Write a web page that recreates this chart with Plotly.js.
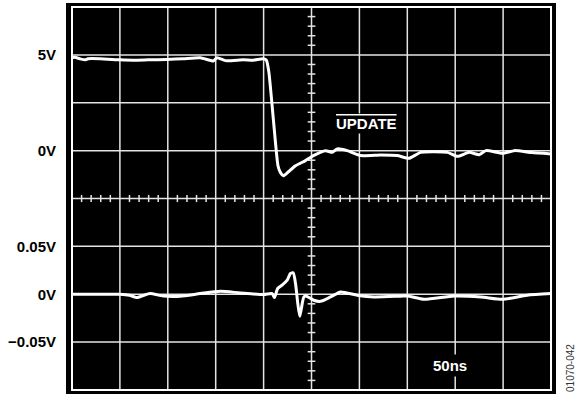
<!DOCTYPE html>
<html>
<head>
<meta charset="utf-8">
<script src="https://cdn.plot.ly/plotly-3.0.1.min.js"></script>
<style>html,body{margin:0;padding:0;background:#fff;}#chart{width:576px;height:398px;}</style>
</head>
<body>
<div id="chart"></div>
<script>
// Time axis in ns (50 ns/div, 10 divisions)
const updateTime = [0, 3.1, 8, 13.6, 16.7, 29.3, 50.2, 63.8, 80, 99, 116, 133.9, 147.5, 151.4, 160, 178.9, 189.3, 199.8, 202.9, 205.5, 210.3, 215, 217.6, 220.7, 224.9, 233.3, 243.7, 252, 264.6, 271.6, 276.9, 287.3, 301.3, 322.2, 339.6, 351.8, 364, 391.9, 402.4, 414.5, 425, 432, 449.5, 461.6, 480, 500];
// UPDATE signal in volts (2.5 V/div)
const updateVolts = [4.85, 4.87, 4.80, 4.74, 4.80, 4.80, 4.74, 4.72, 4.74, 4.76, 4.80, 4.85, 4.68, 4.85, 4.70, 4.74, 4.72, 4.80, 4.72, 4.1, 1.57, -0.79, -1.15, -1.31, -1.15, -0.79, -0.52, -0.26, 0.0, -0.09, 0.09, 0.0, -0.26, -0.23, -0.26, -0.40, -0.09, -0.09, -0.30, -0.09, -0.21, 0.0, -0.14, 0.0, -0.10, -0.17];
// Output glitch in volts (0.05 V/div)
const outTime = [0, 29.3, 50.2, 60, 67.7, 75, 81.6, 95.2, 113, 133.9, 154.8, 175.7, 200.1, 208.9, 211.3, 214.7, 219.3, 224.6, 228, 230.9, 233.3, 235.7, 237.8, 240.3, 242, 244.8, 252.4, 259.4, 269.9, 280.3, 297.8, 315.2, 343.1, 350.1, 367.5, 398.8, 426.8, 449.5, 475, 500];
const outVolts = [0.0, 0.0, 0.0, -0.001, -0.0035, -0.001, 0.0007, -0.0018, -0.002, 0.0007, 0.0031, 0.0014, -0.0003, 0.0007, -0.0035, 0.006, 0.0095, 0.0147, 0.0217, 0.0224, 0.0112, -0.0098, -0.0231, -0.0098, -0.0028, -0.002, -0.0063, -0.0074, -0.0028, 0.0024, -0.001, -0.0028, -0.002, -0.0018, -0.0053, -0.0018, -0.0028, -0.0053, -0.001, 0.0007];
// Tick labels
const upperTickVals = [5, 0];
const upperTickText = ['5V', '0V'];
const lowerTickVals = [0.05, 0, -0.05];
const lowerTickText = ['0.05V', '0V', '\u22120.05V'];

const xRange = [-6.26, 505.2];
const divRange = [-0.0836, 8.0836];
const upperRange = divRange.map(d => (d - 5) * 2.5);
const lowerRange = divRange.map(d => (d - 2) * 0.05);

const lblFont = {family: 'Liberation Sans, Arial, sans-serif', size: 15, color: '#000', weight: 'bold'};

const traces = [
  {x: updateTime, y: updateVolts, yaxis: 'y2', mode: 'lines', line: {color: '#fff', width: 3, shape: 'spline', smoothing: 0.5}, hoverinfo: 'skip'},
  {x: outTime, y: outVolts, yaxis: 'y3', mode: 'lines', line: {color: '#fff', width: 3, shape: 'spline', smoothing: 0.6}, hoverinfo: 'skip'}
];

const gridCol = '#e4e4e4';
const shapes = [];
// grid lines, bounded by the graticule border
for (let t = 50; t < 500; t += 50) {
  shapes.push({type: 'line', xref: 'x', yref: 'y', x0: t, x1: t, y0: 0, y1: 8, line: {color: gridCol, width: 1.5}, layer: 'between'});
}
for (let d = 1; d < 8; d += 1) {
  shapes.push({type: 'line', xref: 'x', yref: 'y', x0: 0, x1: 500, y0: d, y1: d, line: {color: gridCol, width: 1.5}, layer: 'between'});
}
// border
shapes.push({type: 'rect', xref: 'x', yref: 'y', x0: 0, x1: 500, y0: 0, y1: 8, line: {color: '#fff', width: 2}, layer: 'between'});
// minor ticks on center lines
for (let t = 10; t < 500; t += 10) {
  if (t % 50 === 0) continue;
  shapes.push({type: 'line', xref: 'x', yref: 'y', x0: t, x1: t, y0: 4 - 0.075, y1: 4 + 0.075, line: {color: gridCol, width: 1.5}, layer: 'between'});
}
for (let i = 1; i < 40; i++) {
  if (i % 5 === 0) continue;
  const d = i * 0.2;
  shapes.push({type: 'line', xref: 'x', yref: 'y', x0: 250 - 4, x1: 250 + 4, y0: d, y1: d, line: {color: gridCol, width: 1.5}, layer: 'between'});
}

const layout = {
  width: 576, height: 398,
  margin: {l: 66, r: 20, t: 3, b: 4, pad: 0},
  paper_bgcolor: '#fff', plot_bgcolor: '#000',
  showlegend: false,
  xaxis: {range: xRange, showgrid: false, zeroline: false, showticklabels: false, ticks: '', showline: false, fixedrange: true},
  yaxis: {range: divRange, showgrid: false, zeroline: false, showticklabels: false, ticks: '', showline: false, fixedrange: true},
  yaxis2: {range: upperRange, overlaying: 'y', side: 'left', showgrid: false, zeroline: false, tickmode: 'array', tickvals: upperTickVals, ticktext: upperTickText, ticks: '', ticklabelstandoff: 9, tickfont: lblFont, showline: false},
  yaxis3: {range: lowerRange, overlaying: 'y', side: 'left', showgrid: false, zeroline: false, tickmode: 'array', tickvals: lowerTickVals, ticktext: lowerTickText, ticks: '', ticklabelstandoff: 9, tickfont: lblFont, showline: false},
  shapes: shapes,
  annotations: [
    {xref: 'x', yref: 'y', x: 306.9, y: 5.577, text: '<span style="text-decoration:overline">UPDATE</span>', showarrow: false, bgcolor: '#000', borderpad: 1, font: {family: 'Liberation Sans, Arial, sans-serif', size: 15, color: '#fff', weight: 'bold'}},
    {xref: 'x', yref: 'y', x: 394.6, y: 0.512, text: '50ns', showarrow: false, bgcolor: '#000', borderpad: 2, font: {family: 'Liberation Sans, Arial, sans-serif', size: 15, color: '#fff', weight: 'bold'}},
    {xref: 'paper', yref: 'paper', x: 1.0306, y: 0.0665, text: '01070-042', textangle: -90, showarrow: false, xanchor: 'center', yanchor: 'middle', font: {family: 'Liberation Sans, Arial, sans-serif', size: 10, color: '#333'}}
  ]
};

Plotly.newPlot('chart', traces, layout, {staticPlot: true, displayModeBar: false});
</script>
</body>
</html>
